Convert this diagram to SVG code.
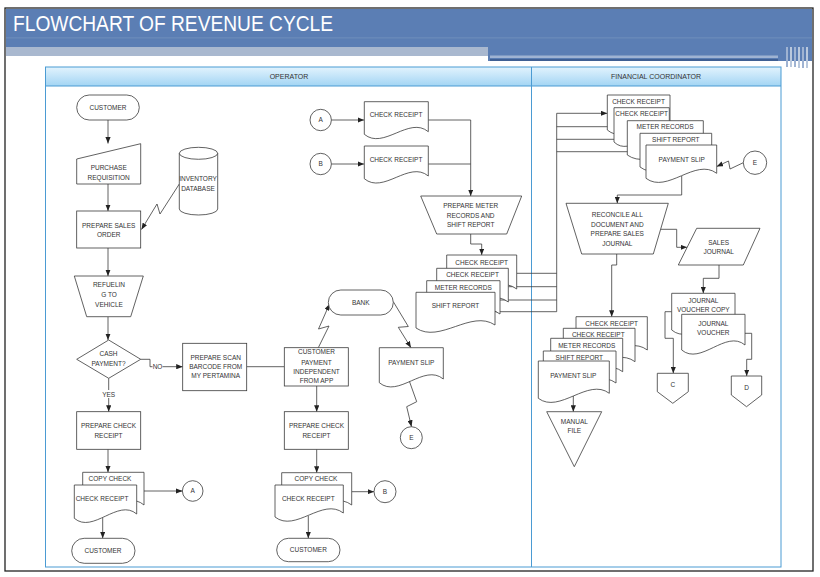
<svg xmlns="http://www.w3.org/2000/svg" width="820" height="577" viewBox="0 0 820 577">
<defs>
<linearGradient id="hdr" x1="0" y1="0" x2="0" y2="1">
<stop offset="0" stop-color="#e2f3fd"/>
<stop offset="1" stop-color="#a3d5f4"/>
</linearGradient>
<marker id="ah" viewBox="0 0 10 8" refX="10" refY="4" markerWidth="6.5" markerHeight="5.2" markerUnits="userSpaceOnUse" orient="auto">
<path d="M0,0 L10,4 L0,8 z" fill="#222"/>
</marker>
<style>
.s{fill:#fff;stroke:#3a3a3a;stroke-width:0.8}
.c{fill:none;stroke:#3a3a3a;stroke-width:0.8}
.a{marker-end:url(#ah)}
.t{font-family:"Liberation Sans",Arial,sans-serif;font-size:6.5px;fill:#333;text-anchor:middle}
.h{font-size:7px}
.lane{fill:none;stroke:#4b9bd3;stroke-width:1}
</style>
</defs>
<rect x="0" y="0" width="820" height="577" fill="#fff"/>
<!-- title band -->
<g id="title">
<rect x="6" y="9" width="806" height="38" fill="#5b7eb4"/>
<rect x="6" y="37.5" width="806" height="0.8" fill="#7591bd"/>
<rect x="6" y="47" width="482" height="9" fill="#a9b8cf"/>
<rect x="488" y="47" width="324" height="14" fill="#5b7eb4"/>
<rect x="490" y="55.5" width="288" height="2.5" fill="#9fb3d2"/>
<rect x="490" y="59" width="288" height="2" fill="#3f5f93"/>
<rect x="786" y="47" width="2" height="20" fill="#9fb3d2"/>
<rect x="790" y="47" width="2" height="20" fill="#b9c8dd"/>
<rect x="794" y="47" width="2" height="20" fill="#9fb3d2"/>
<rect x="798" y="47" width="2" height="21" fill="#b9c8dd"/>
<rect x="802" y="47" width="2" height="21" fill="#9fb3d2"/>
<rect x="806" y="47" width="2" height="21" fill="#b9c8dd"/>
<text x="13" y="31" font-family="Liberation Sans, Arial, sans-serif" font-size="22" fill="#fff" textLength="320" lengthAdjust="spacingAndGlyphs">FLOWCHART OF REVENUE CYCLE</text>
</g>
<rect x="5" y="8" width="808" height="563" fill="none" stroke="#222" stroke-width="1.3"/>
<!-- lanes -->
<g id="lanes">
<rect x="45.5" y="67" width="486" height="19" fill="url(#hdr)"/>
<rect x="531.5" y="67" width="249.5" height="19" fill="url(#hdr)"/>
<rect x="45.5" y="67" width="735.5" height="500" class="lane"/>
<line x1="45.5" y1="86" x2="781" y2="86" class="lane" stroke-width="0.6"/>
<line x1="531.5" y1="67" x2="531.5" y2="567" class="lane"/>
<text x="289" y="79" class="t h">OPERATOR</text>
<text x="656" y="79" class="t h">FINANCIAL COORDINATOR</text>
</g>
<!-- connectors -->
<g id="connectors">
<path class="c a" d="M108,120 V143.5"/>
<path class="c a" d="M108,184 V211"/>
<path class="c a" d="M179.3,184 L160,214 L157,204 L141.5,229.5"/>
<path class="c a" d="M108,248 V276"/>
<path class="c a" d="M108,316.7 V340"/>
<path class="c a" d="M140.7,359.3 H150 V366.7 H182.7"/>
<path class="c a" d="M108.7,378.3 V411.7"/>
<path class="c" d="M246.7,366.7 H284.3"/>
<path class="c a" d="M108,449.3 V472.3"/>
<path class="c a" d="M144,491 H182.4"/>
<path class="c a" d="M102.7,518 V538.3"/>
<path class="c a" d="M318.3,347.7 L329,326 L318.5,329 L329.5,304"/>
<path class="c a" d="M393.3,301.7 L408.3,326.5 L398.3,327.3 L411,347.7"/>
<path class="c a" d="M409.3,381 L416.7,401.7 L406.7,406.7 L411.5,426.7"/>
<path class="c a" d="M316.7,386 V411.7"/>
<path class="c a" d="M316.7,449.3 V472.7"/>
<path class="c a" d="M351.7,491.7 H374"/>
<path class="c a" d="M308.3,516 V538.3"/>
<path class="c a" d="M331.4,120 H364.3"/>
<path class="c a" d="M331.4,164 H364.3"/>
<path class="c a" d="M428.3,120 H470.7 V196"/>
<path class="c" d="M428.3,164 H470.7"/>
<path class="c a" d="M470.7,234 V244 H481.7 V255"/>
<path class="c" d="M516.7,273.3 H556.7 M508.3,286.7 H556.7 M500,300 H556.7 M495,311.7 H556.7 M556.7,113.3 V311.7"/>
<path class="c a" d="M556.7,113.3 H607.3"/>
<path class="c a" d="M556.7,126.7 H614"/>
<path class="c a" d="M556.7,139.3 H627.3"/>
<path class="c a" d="M556.7,151.7 H640"/>
<path class="c a" d="M743.3,162.7 L730,169 L728.5,161 L716.7,166.5"/>
<path class="c a" d="M681.7,176 V195 H617.3 V203.3"/>
<path class="c a" d="M660.6,229.3 H676.7 V247.3 H687"/>
<path class="c a" d="M616.7,254 V265 H611.7 V316.7"/>
<path class="c a" d="M573.3,396 V411.7"/>
<path class="c a" d="M719,265 V278.3 H703.3 V293.3"/>
<path class="c a" d="M671.7,311.7 H665 V338.3 H673.3 V373.3"/>
<path class="c a" d="M745,333.3 H751.7 V359.3 H746.7 V376"/>
</g>
<!-- labels on connectors -->
<g id="label-no"><rect x="152.5" y="363" width="10" height="7.5" fill="#fff"/><text x="157.5" y="369" class="t">NO</text></g>
<g id="label-yes"><rect x="102" y="390" width="13.5" height="8" fill="#fff"/><text x="108.7" y="396.6" class="t">YES</text></g>
<!-- operator lane nodes -->
<g id="customer1"><rect x="76.7" y="95" width="62.6" height="25" rx="12.5" class="s"/><text x="108" y="109.6" class="t">CUSTOMER</text></g>
<g id="purchase-requisition"><polygon points="76.7,159 140.7,143.7 140.7,184 76.7,184" class="s"/><text x="108.7" y="170.3" class="t">PURCHASE</text><text x="108.7" y="179.6" class="t">REQUISITION</text></g>
<g id="inventory-db"><path d="M179.3,153.3 A19.2,6 0 0 1 217.7,153.3 V209 A19.2,6 0 0 1 179.3,209 Z" class="s"/><path d="M179.3,153.3 A19.2,6 0 0 0 217.7,153.3" class="c"/><text x="198" y="180.6" class="t">INVENTORY</text><text x="198" y="190.6" class="t">DATABASE</text></g>
<g id="prepare-sales-order"><rect x="76.7" y="211" width="64" height="37" class="s"/><text x="108.7" y="228" class="t">PREPARE SALES</text><text x="108.7" y="237.3" class="t">ORDER</text></g>
<g id="refueling"><polygon points="74.3,276 143.3,276 130.7,316.7 86.7,316.7" class="s"/><text x="109" y="287.3" class="t">REFUELIN</text><text x="109" y="296.6" class="t">G TO</text><text x="109" y="306.6" class="t">VEHICLE</text></g>
<g id="cash-payment"><polygon points="108.7,340 140.7,359.3 108.7,378.3 76.7,359.3" class="s"/><text x="108.5" y="356.3" class="t">CASH</text><text x="108.5" y="365.6" class="t">PAYMENT?</text></g>
<g id="prepare-scan"><rect x="182.7" y="343.3" width="64" height="47.4" class="s"/><text x="215.7" y="359.6" class="t">PREPARE SCAN</text><text x="215.7" y="369" class="t">BARCODE FROM</text><text x="215.7" y="378.3" class="t">MY PERTAMINA</text></g>
<g id="customer-payment"><rect x="284.3" y="347.7" width="64" height="38.3" class="s"/><text x="316.5" y="354" class="t">CUSTOMER</text><text x="316.5" y="364.6" class="t">PAYMENT</text><text x="316.5" y="374" class="t">INDEPENDENT</text><text x="316.5" y="383.3" class="t">FROM APP</text></g>
<g id="prepare-check-1"><rect x="76.7" y="411.7" width="64" height="37.6" class="s"/><text x="108.5" y="428.3" class="t">PREPARE CHECK</text><text x="108.5" y="437.6" class="t">RECEIPT</text></g>
<g id="check-receipt-1">
<path d="M82.7,472.3 H144 V505 C125.6,489 101.1,523 82.7,507 Z" class="s"/>
<text x="110" y="481.3" class="t">COPY CHECK</text>
<path d="M74.3,485 H136.7 V514 C118,498 93,534.3 74.3,518.3 Z" class="s"/>
<text x="102" y="501.3" class="t">CHECK RECEIPT</text>
</g>
<g id="conn-a1"><circle cx="192.7" cy="491" r="10.3" class="s"/><text x="192.7" y="493.3" class="t">A</text></g>
<g id="customer2"><rect x="71.7" y="538.3" width="63.3" height="25" rx="12.5" class="s"/><text x="103" y="553" class="t">CUSTOMER</text></g>
<g id="bank"><rect x="328.3" y="290" width="65" height="25" rx="12.5" class="s"/><text x="360.8" y="304.6" class="t">BANK</text></g>
<g id="payment-slip-1"><path d="M379.3,347.7 H443.3 V379 C424.1,363 398.5,398.7 379.3,382.7 Z" class="s"/><text x="411.3" y="364.6" class="t">PAYMENT SLIP</text></g>
<g id="conn-e1"><circle cx="411.3" cy="437.7" r="11" class="s"/><text x="411.3" y="440" class="t">E</text></g>
<g id="prepare-check-2"><rect x="284.3" y="411.7" width="64" height="37.6" class="s"/><text x="316.5" y="428" class="t">PREPARE CHECK</text><text x="316.5" y="437.6" class="t">RECEIPT</text></g>
<g id="check-receipt-2">
<path d="M281.7,472.7 H351.7 V505 C330.7,489 302.7,523 281.7,507 Z" class="s"/>
<text x="316" y="481" class="t">COPY CHECK</text>
<path d="M275,485 H343.3 V513 C322.8,497 295.5,533 275,517 Z" class="s"/>
<text x="308.3" y="501.3" class="t">CHECK RECEIPT</text>
</g>
<g id="conn-b1"><circle cx="385" cy="491.7" r="11" class="s"/><text x="385" y="494" class="t">B</text></g>
<g id="customer3"><rect x="276.7" y="538.3" width="63.3" height="23.4" rx="11.7" class="s"/><text x="308.3" y="552.3" class="t">CUSTOMER</text></g>
<g id="conn-a2"><circle cx="320.7" cy="120" r="10.7" class="s"/><text x="320.7" y="122.3" class="t">A</text></g>
<g id="conn-b2"><circle cx="320.7" cy="164" r="10.7" class="s"/><text x="320.7" y="166.3" class="t">B</text></g>
<g id="check-receipt-a"><path d="M364.3,101.7 H428.3 V131.7 C409.1,115.7 383.5,150.3 364.3,134.3 Z" class="s"/><text x="396" y="117.3" class="t">CHECK RECEIPT</text></g>
<g id="check-receipt-b"><path d="M364.3,146 H428.3 V176 C409.1,160 383.5,194.7 364.3,178.7 Z" class="s"/><text x="396" y="161.6" class="t">CHECK RECEIPT</text></g>
<g id="prepare-meter"><polygon points="420.7,196 521.7,196 506.7,234 436.7,234" class="s"/><text x="470.7" y="208" class="t">PREPARE METER</text><text x="470.7" y="217.6" class="t">RECORDS AND</text><text x="470.7" y="227" class="t">SHIFT REPORT</text></g>
<g id="report-stack-1">
<path d="M446.7,255 H516.7 V289 C495.7,273 467.7,307 446.7,291 Z" class="s"/>
<text x="481.7" y="264.6" class="t">CHECK RECEIPT</text>
<path d="M436.7,268.3 H508.3 V302 C486.8,286 458.2,320 436.7,304 Z" class="s"/>
<text x="472.5" y="277.3" class="t">CHECK RECEIPT</text>
<path d="M426.7,280.7 H500 V314 C478,298 448.7,332 426.7,316 Z" class="s"/>
<text x="463.3" y="289.6" class="t">METER RECORDS</text>
<path d="M416,292.3 H495 V325 C471.3,309 439.7,344 416,328 Z" class="s"/>
<text x="455.5" y="308.3" class="t">SHIFT REPORT</text>
</g>
<!-- financial coordinator lane nodes -->
<g id="doc-stack-2">
<path d="M607.3,95 H670 V128 C651.2,112 626.1,146 607.3,130 Z" class="s"/>
<text x="638.5" y="104" class="t">CHECK RECEIPT</text>
<path d="M614,107.7 H669.3 V140 C652.7,124 630.6,158 614,142 Z" class="s"/>
<text x="641.7" y="116.3" class="t">CHECK RECEIPT</text>
<path d="M627.3,120.7 H703.3 V153 C680.5,137 650.1,171 627.3,155 Z" class="s"/>
<text x="665" y="129" class="t">METER RECORDS</text>
<path d="M640,133.3 H711.7 V165 C690.2,149 661.5,183 640,167 Z" class="s"/>
<text x="675.8" y="141.6" class="t">SHIFT REPORT</text>
<path d="M646,145 H716.7 V173.3 C695.5,157.3 667.2,194.3 646,178.3 Z" class="s"/>
<text x="681.7" y="161.6" class="t">PAYMENT SLIP</text>
</g>
<g id="conn-e2"><circle cx="755" cy="162.7" r="11.7" class="s"/><text x="755" y="165" class="t">E</text></g>
<g id="reconcile"><polygon points="566,203.3 668.3,203.3 653.3,254 581.7,254" class="s"/><text x="617.3" y="217.3" class="t">RECONCILE ALL</text><text x="617.3" y="226.6" class="t">DOCUMENT AND</text><text x="617.3" y="236" class="t">PREPARE SALES</text><text x="617.3" y="245.6" class="t">JOURNAL</text></g>
<g id="sales-journal"><polygon points="696.7,228.3 760,228.3 743.3,265 678.3,265" class="s"/><text x="718.7" y="244.6" class="t">SALES</text><text x="718.7" y="254" class="t">JOURNAL</text></g>
<g id="doc-stack-3">
<path d="M576,316.7 H647.3 V350 C625.9,334 597.4,368 576,352 Z" class="s"/>
<text x="611.7" y="325.6" class="t">CHECK RECEIPT</text>
<path d="M563.3,328.3 H635 V361.7 C613.5,345.7 584.8,380 563.3,364 Z" class="s"/>
<text x="598.3" y="337.3" class="t">CHECK RECEIPT</text>
<path d="M550.7,338.3 H622.7 V371.7 C601.1,355.7 572.3,390 550.7,374 Z" class="s"/>
<text x="586.7" y="348" class="t">METER RECORDS</text>
<path d="M543.3,351 H616 V383 C594.2,367 565.1,402 543.3,386 Z" class="s"/>
<text x="579.3" y="360" class="t">SHIFT REPORT</text>
<path d="M538.3,361 H609.3 V393.3 C588,377.3 559.6,414.3 538.3,398.3 Z" class="s"/>
<text x="573.3" y="378" class="t">PAYMENT SLIP</text>
</g>
<g id="manual-file"><polygon points="546.7,411.7 601.7,411.7 574.3,466.7" class="s"/><text x="574.3" y="424" class="t">MANUAL</text><text x="574.3" y="433.3" class="t">FILE</text></g>
<g id="journal-voucher">
<path d="M671.7,293.3 H735 V327 C716,311 690.7,346 671.7,330 Z" class="s"/>
<text x="703.3" y="303" class="t">JOURNAL</text>
<text x="703.3" y="312.3" class="t">VOUCHER COPY</text>
<path d="M681.7,314.3 H745 V345 C726,329 700.7,366 681.7,350 Z" class="s"/>
<text x="713.3" y="325.6" class="t">JOURNAL</text>
<text x="713.3" y="335" class="t">VOUCHER</text>
</g>
<g id="offpage-c"><polygon points="657.3,373.3 688.3,373.3 688.3,391.7 672.8,403.3 657.3,391.7" class="s"/><text x="672.8" y="387.3" class="t">C</text></g>
<g id="offpage-d"><polygon points="731.3,376 761.7,376 761.7,395 746.5,406.7 731.3,395" class="s"/><text x="746.5" y="389.6" class="t">D</text></g>
</svg>
